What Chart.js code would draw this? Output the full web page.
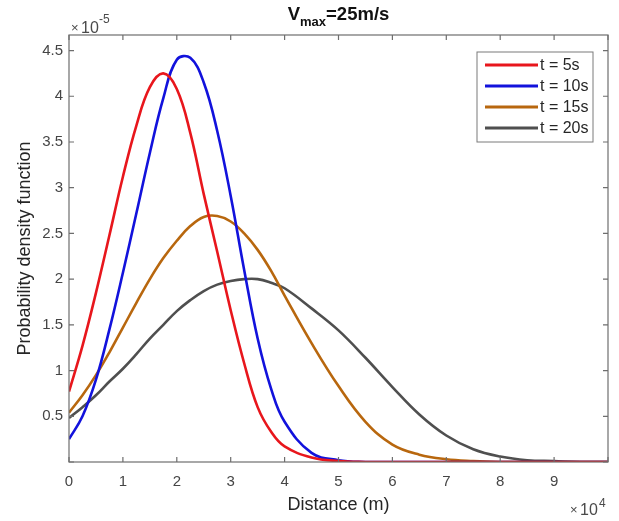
<!DOCTYPE html>
<html>
<head>
<meta charset="utf-8">
<script src="https://cdn.jsdelivr.net/npm/chart.js@4.4.1/dist/chart.umd.min.js"></script>
<style>
  html, body { margin: 0; padding: 0; background: #fff; }
  #wrap { width: 619px; height: 521px; }
</style>
</head>
<body>
<div id="wrap"><canvas id="pdfChart" width="619" height="521"></canvas></div>
<script>
// distance in units of 1e4 m, pdf in units of 1e-5
var distance = [0, 0.25, 0.5, 0.75, 1, 1.25, 1.5, 1.75, 2, 2.25, 2.5, 2.75, 3, 3.25, 3.5, 3.75, 4, 4.5, 5, 5.5, 6, 6.5, 7, 7.5, 8, 8.5, 9, 9.5, 10];
var pdf5s  = [0.77, 1.27, 1.85, 2.48, 3.12, 3.68, 4.10, 4.25, 4.08, 3.60, 2.93, 2.30, 1.66, 1.08, 0.60, 0.33, 0.17, 0.05, 0.01, 0, 0, 0, 0, 0, 0, 0, 0, 0, 0];
var pdf10s = [0.25, 0.50, 0.90, 1.45, 2.07, 2.72, 3.38, 3.98, 4.40, 4.42, 4.15, 3.62, 2.91, 2.10, 1.35, 0.80, 0.44, 0.10, 0.02, 0, 0, 0, 0, 0, 0, 0, 0, 0, 0];
var pdf15s = [0.54, 0.73, 0.95, 1.20, 1.47, 1.74, 2.00, 2.23, 2.42, 2.58, 2.68, 2.69, 2.63, 2.50, 2.32, 2.09, 1.82, 1.30, 0.83, 0.44, 0.19, 0.08, 0.03, 0.01, 0, 0, 0, 0, 0];
var pdf20s = [0.48, 0.60, 0.73, 0.88, 1.02, 1.18, 1.35, 1.50, 1.65, 1.77, 1.87, 1.94, 1.98, 2.00, 2.00, 1.96, 1.90, 1.68, 1.44, 1.14, 0.82, 0.52, 0.29, 0.14, 0.06, 0.02, 0.01, 0, 0];

var seriesNames = ["t = 5s", "t = 10s", "t = 15s", "t = 20s"];
var seriesColors = ["#e8161c", "#1212dc", "#b8670e", "#4f4f4f"];
var seriesValues = [pdf5s, pdf10s, pdf15s, pdf20s];

var FONT = "'Liberation Sans', Arial, Helvetica, sans-serif";

function toPoints(vals) {
  return distance.map(function(d, i) { return { x: d, y: vals[i] }; });
}

var datasets = seriesValues.map(function(vals, i) {
  return {
    label: seriesNames[i],
    data: toPoints(vals),
    borderColor: seriesColors[i],
    backgroundColor: seriesColors[i],
    borderWidth: 2.6,
    pointRadius: 0,
    fill: false,
    tension: 0.4
  };
});

// MATLAB-like box, inward ticks, exponent labels, title and legend
var matlabDecor = {
  id: "matlabDecor",
  afterDatasetsDraw: function(chart) {
    var ctx = chart.ctx;
    var a = chart.chartArea;
    var xs = chart.scales.x, ys = chart.scales.y;
    ctx.save();

    // box + ticks
    ctx.strokeStyle = "#6e6e6e";
    ctx.lineWidth = 1.2;
    ctx.strokeRect(a.left, a.top, a.right - a.left, a.bottom - a.top);
    ctx.beginPath();
    xs.ticks.forEach(function(t) {
      var px = xs.getPixelForValue(t.value);
      ctx.moveTo(px, a.bottom); ctx.lineTo(px, a.bottom - 5);
      ctx.moveTo(px, a.top); ctx.lineTo(px, a.top + 5);
    });
    ys.ticks.forEach(function(t) {
      var py = ys.getPixelForValue(t.value);
      ctx.moveTo(a.left, py); ctx.lineTo(a.left + 5, py);
      ctx.moveTo(a.right, py); ctx.lineTo(a.right - 5, py);
    });
    ctx.stroke();

    // exponent labels
    ctx.fillStyle = "#4a4a4a";
    ctx.textBaseline = "alphabetic";
    ctx.textAlign = "left";
    ctx.font = "13px " + FONT;
    ctx.fillText("\u00d7", a.left + 2, 32);
    ctx.font = "16px " + FONT;
    ctx.fillText("10", a.left + 12, 33);
    ctx.font = "12px " + FONT;
    ctx.fillText("-5", a.left + 30, 23);

    ctx.font = "13px " + FONT;
    ctx.fillText("\u00d7", 570, 514);
    ctx.font = "16px " + FONT;
    ctx.fillText("10", 580, 515);
    ctx.font = "12px " + FONT;
    ctx.fillText("4", 599, 507);

    // title  V_max=25m/s
    ctx.fillStyle = "#111";
    var cx = (a.left + a.right) / 2;
    var f1 = "bold 18.5px " + FONT, f2 = "bold 13px " + FONT;
    ctx.font = f1; var wV = ctx.measureText("V").width, wR = ctx.measureText("=25m/s").width;
    ctx.font = f2; var wM = ctx.measureText("max").width;
    var x0 = cx - (wV + wM + wR) / 2;
    ctx.font = f1; ctx.fillText("V", x0, 20);
    ctx.font = f2; ctx.fillText("max", x0 + wV, 26);
    ctx.font = f1; ctx.fillText("=25m/s", x0 + wV + wM, 20);

    // legend
    var lx = 477, ly = 52, lw = 116, lh = 90;
    ctx.fillStyle = "#fff";
    ctx.fillRect(lx, ly, lw, lh);
    ctx.strokeStyle = "#7a7a7a";
    ctx.lineWidth = 1;
    ctx.strokeRect(lx, ly, lw, lh);
    ctx.font = "16px " + FONT;
    ctx.textBaseline = "middle";
    chart.data.datasets.forEach(function(ds, i) {
      var yy = ly + 13 + i * 21;
      ctx.strokeStyle = ds.borderColor;
      ctx.lineWidth = 3;
      ctx.beginPath();
      ctx.moveTo(lx + 8, yy); ctx.lineTo(lx + 61, yy);
      ctx.stroke();
      ctx.fillStyle = "#262626";
      ctx.fillText(ds.label, lx + 63, yy + 1);
    });
    ctx.restore();
  }
};

var ctxP = document.getElementById("pdfChart").getContext("2d");
var pdfChart = new Chart(ctxP, {
  type: "line",
  data: { datasets: datasets },
  options: {
    responsive: false,
    animation: false,
    devicePixelRatio: 1,
    layout: { padding: { left: 0, top: 35, right: 10, bottom: 0 } },
    plugins: {
      legend: { display: false },
      title: { display: false },
      tooltip: { enabled: false }
    },
    scales: {
      x: {
        type: "linear",
        min: 0,
        max: 10,
        grid: { display: false, drawTicks: false },
        border: { display: false },
        ticks: {
          stepSize: 1,
          padding: 11,
          maxRotation: 0,
          color: "#454545",
          font: { size: 15, family: FONT },
          callback: function(v) { return v < 10 ? v : ""; }
        },
        title: {
          display: true,
          text: "Distance (m)",
          color: "#262626",
          font: { size: 18, family: FONT },
          padding: { top: 0, bottom: 5 }
        },
        afterFit: function(scale) { scale.height = 59; }
      },
      y: {
        type: "linear",
        min: 0,
        max: 4.67,
        grid: { display: false, drawTicks: false },
        border: { display: false },
        ticks: {
          stepSize: 0.5,
          includeBounds: false,
          padding: 6,
          color: "#454545",
          font: { size: 15, family: FONT },
          callback: function(v) { return v === 0 ? "" : v; }
        },
        title: {
          display: true,
          text: "Probability density function",
          color: "#262626",
          font: { size: 18, family: FONT },
          padding: { top: 14, bottom: 0 }
        },
        afterFit: function(scale) { scale.width = 69; }
      }
    }
  },
  plugins: [matlabDecor]
});
</script>
</body>
</html>
